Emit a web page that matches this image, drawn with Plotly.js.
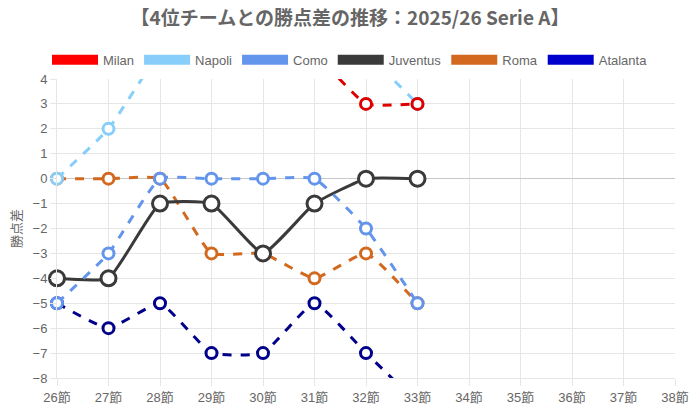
<!DOCTYPE html>
<html>
<head>
<meta charset="utf-8">
<script src="https://cdn.plot.ly/plotly-3.0.1.min.js"></script>
<style>
  html, body { margin: 0; padding: 0; background: #fff; }
  #plot { width: 700px; height: 412px; }
</style>
</head>
<body>
<div id="plot"></div>
<script>
// matchdays shown on the x axis
const rounds = ["26節", "27節", "28節", "29節", "30節", "31節", "32節", "33節",
  "34節", "35節", "36節", "37節", "38節"];

// points gap to 4th place, rounds 26-33
const milan = [9, 8, 8, 8, 6, 5, 3, 3];
const napoli = [0, 2, 5, 6, 5, 6, 5, 3];
const como = [-5, -3, 0, 0, 0, 0, -2, -5];
const juventus = [-4, -4, -1, -1, -3, -1, 0, 0];
const roma = [0, 0, 0, -3, -3, -4, -3, -5];
const atalanta = [-5, -6, -5, -7, -7, -5, -7, -9];

const teams = ["Milan", "Napoli", "Como", "Juventus", "Roma", "Atalanta"];
const seriesValues = [milan, napoli, como, juventus, roma, atalanta];
const lineColors = ["#dd0000", "#87cefa", "#6495ed", "#3a3a3a", "#d2691e", "#00008b"];
const legendColors = ["#ff0000", "#87cefa", "#6495ed", "#3a3a3a", "#d2691e", "#0000cd"];

const yMin = -8, yMax = 4;
const fontFamily = "'Liberation Sans', 'Noto Sans CJK JP', sans-serif";

function draw() {
  try {
    const data = [];

    // legend-only entries, drawn as fat bars
    teams.forEach(function (name, i) {
      data.push({
        x: [null],
        y: [null],
        name: name,
        type: "scatter",
        mode: "lines",
        line: { color: legendColors[i], width: 14 },
        hoverinfo: "skip",
      });
    });

    // the real series, first team drawn last so it sits on top
    for (let i = teams.length - 1; i >= 0; i--) {
      const vals = seriesValues[i];
      const isJuve = teams[i] === "Juventus";
      data.push({
        x: rounds.slice(0, vals.length),
        y: vals,
        name: teams[i],
        type: "scatter",
        mode: "lines+markers",
        showlegend: false,
        cliponaxis: false,
        line: {
          color: lineColors[i],
          width: 3,
          dash: isJuve ? "solid" : "dash",
          shape: "spline",
          smoothing: 0.4,
        },
        marker: {
          symbol: "circle",
          color: "#ffffff",
          opacity: 1,
          size: vals.map(function (v) {
            return v >= yMin && v <= yMax ? (isJuve ? 15 : 11) : 0;
          }),
          line: { color: lineColors[i], width: 3 },
        },
      });
    }

    const layout = {
      width: 700,
      height: 412,
      margin: { l: 57, r: 25, t: 79, b: 34 },
      paper_bgcolor: "#ffffff",
      plot_bgcolor: "#ffffff",
      font: { family: fontFamily, color: "#666666", size: 13 },
      title: {
        text: "<b>【4位チームとの勝点差の推移：2025/26 Serie A】</b>",
        font: { family: "'Noto Sans CJK JP', sans-serif", size: 19, color: "#666666" },
        x: 0.5,
        xref: "container",
        xanchor: "center",
        y: 0.955,
        yanchor: "middle",
        automargin: false,
      },
      showlegend: true,
      legend: {
        orientation: "h",
        xref: "container",
        yref: "container",
        x: 0.5,
        xanchor: "center",
        y: 0.855,
        yanchor: "middle",
        font: { size: 13, color: "#666666" },
        itemwidth: 46,
        tracegroupgap: 0,
      },
      xaxis: {
        type: "category",
        categoryarray: rounds,
        categoryorder: "array",
        range: [0, rounds.length - 1],
        showgrid: true,
        gridcolor: "#e6e6e6",
        ticks: "outside",
        ticklen: 7,
        tickcolor: "#e6e6e6",
        showline: true,
        linecolor: "#e6e6e6",
        zeroline: false,
        tickangle: 0,
        automargin: false,
        tickfont: { size: 13, color: "#666666" },
        fixedrange: true,
      },
      yaxis: {
        range: [yMin, yMax],
        dtick: 1,
        tick0: 0,
        showgrid: true,
        gridcolor: "#e6e6e6",
        zeroline: true,
        zerolinecolor: "#c8c8c8",
        zerolinewidth: 1,
        ticks: "outside",
        ticklen: 6,
        tickcolor: "#e6e6e6",
        showline: true,
        linecolor: "#e6e6e6",
        automargin: false,
        tickfont: { size: 13, color: "#666666" },
        title: { text: "勝点差", font: { size: 13, color: "#666666" }, standoff: 8 },
        fixedrange: true,
      },
    };

    Plotly.newPlot("plot", data, layout, { displayModeBar: false, staticPlot: true });
  } catch (err) {
    console.error(err);
  }
}

draw();
</script>
</body>
</html>
